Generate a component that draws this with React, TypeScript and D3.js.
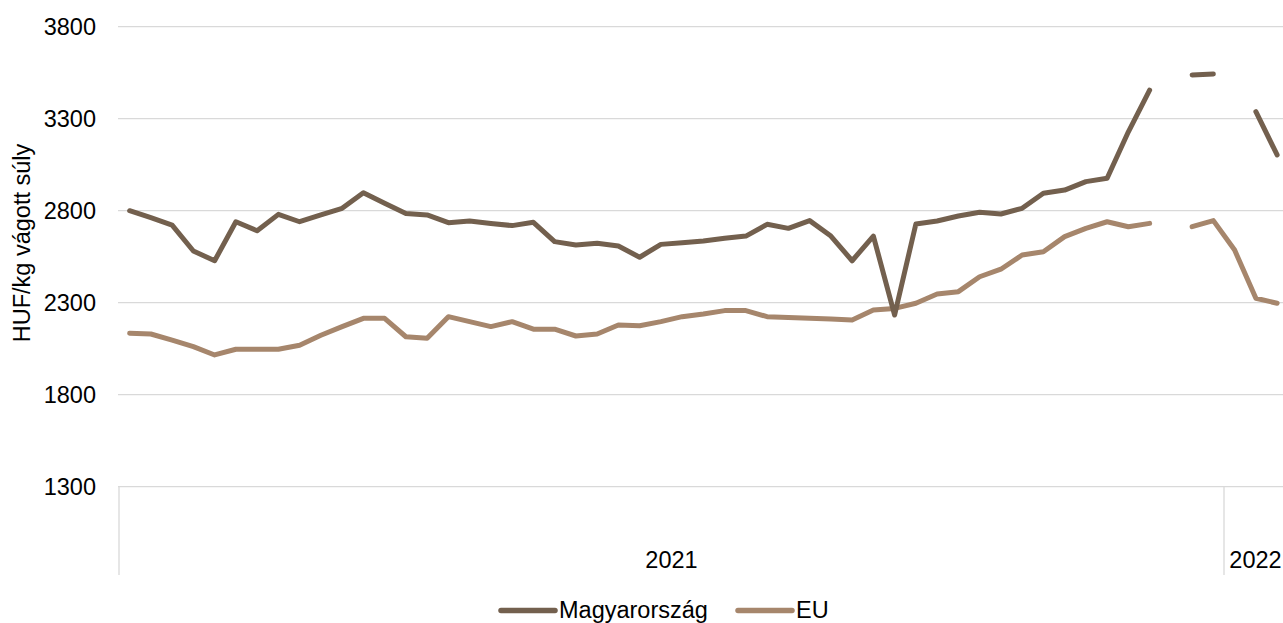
import React from "react";
import * as d3 from "d3";

const years = ["2021", "2022"];
const weeksPerYear = [52, 3];

const magyarorszag: (number | null)[] = [
  2800, 2762, 2722, 2581, 2528, 2740, 2691, 2780, 2740, 2777,
  2813, 2898, 2840, 2785, 2777, 2735, 2744, 2731, 2719, 2737,
  2632, 2614, 2623, 2608, 2547, 2617, 2626, 2635, 2650, 2662,
  2726, 2704, 2746, 2662, 2528, 2662, 2233, 2728, 2744, 2771,
  2792, 2782, 2813, 2895, 2912, 2958, 2976, 3229, 3455, null,
  3538, 3543, null, 3338, 3103,
];

const eu: (number | null)[] = [
  2134, 2130, 2097, 2061, 2016, 2047, 2047, 2047, 2069, 2123,
  2170, 2215, 2215, 2115, 2107, 2224, 2197, 2170, 2197, 2156,
  2156, 2119, 2130, 2179, 2175, 2197, 2224, 2239, 2257, 2257,
  2224, 2219, 2215, 2211, 2206, 2260, 2269, 2297, 2347, 2360,
  2441, 2482, 2559, 2577, 2659, 2704, 2740, 2713, 2731, null,
  2713, 2746, 2586, 2324, 2297,
];

const yTicks = [1300, 1800, 2300, 2800, 3300, 3800];
const seriesNames = ["Magyarország", "EU"];
const colors = ["#73604E", "#A6866C"];

const W = 1283;
const H = 623;
const FONT = "'Liberation Sans', Arial, sans-serif";
const FS = 23.5;

export default function App() {
  const weeks: string[] = [];
  years.forEach((y, yi) => {
    for (let w = 1; w <= weeksPerYear[yi]; w++) weeks.push(`${y}-${w}`);
  });
  const bw = 21.25;
  const x0 = 119;
  const x = d3
    .scaleBand<string>()
    .domain(weeks)
    .range([x0, x0 + weeks.length * bw])
    .paddingInner(0)
    .paddingOuter(0);
  const y = d3.scaleLinear().domain([1300, 3800]).range([486.7, 26.7]);

  const line = d3
    .line<number | null>()
    .defined((d) => d != null)
    .x((_, i) => (x(weeks[i]) as number) + x.bandwidth() / 2)
    .y((d) => y(d as number));

  const bounds: number[] = [x0];
  let acc = 0;
  weeksPerYear.forEach((n) => {
    acc += n;
    bounds.push(x0 + acc * x.bandwidth());
  });

  const axisY = y(1300);

  return (
    <svg
      width={W}
      height={H}
      style={{ position: "absolute", left: 0, top: 0, background: "#fff" }}
      fontFamily={FONT}
    >
      {yTicks.map((t) => (
        <g key={t}>
          <line x1={118} x2={W} y1={y(t)} y2={y(t)} stroke="#D9D9D9" strokeWidth={1.3} />
          <text x={96} y={y(t) + 8.5} textAnchor="end" fontSize={FS} fill="#000">
            {t}
          </text>
        </g>
      ))}
      {bounds.slice(0, 2).map((b, i) => (
        <line key={i} x1={b} x2={b} y1={axisY} y2={575} stroke="#D9D9D9" strokeWidth={1.3} />
      ))}
      {years.map((yr, i) => {
        const cx = i === years.length - 1 ? (bounds[i] + W) / 2 + 2 : (bounds[i] + bounds[i + 1]) / 2;
        return (
          <text key={yr} x={cx} y={568} textAnchor="middle" fontSize={FS} fill="#000">
            {yr}
          </text>
        );
      })}
      <text
        transform={`translate(30,243) rotate(-90)`}
        textAnchor="middle"
        fontSize={FS}
        fill="#000"
      >
        HUF/kg vágott súly
      </text>
      <path d={line(eu) || ""} fill="none" stroke={colors[1]} strokeWidth={5} strokeLinecap="round" strokeLinejoin="round" />
      <path d={line(magyarorszag) || ""} fill="none" stroke={colors[0]} strokeWidth={5} strokeLinecap="round" strokeLinejoin="round" />
      <g>
        <line x1={501} x2={555} y1={610.5} y2={610.5} stroke={colors[0]} strokeWidth={5.5} strokeLinecap="round" />
        <text x={559} y={618} fontSize={FS} fill="#000">{seriesNames[0]}</text>
        <line x1={738} x2={792} y1={610.5} y2={610.5} stroke={colors[1]} strokeWidth={5.5} strokeLinecap="round" />
        <text x={796} y={618} fontSize={FS} fill="#000">{seriesNames[1]}</text>
      </g>
    </svg>
  );
}
